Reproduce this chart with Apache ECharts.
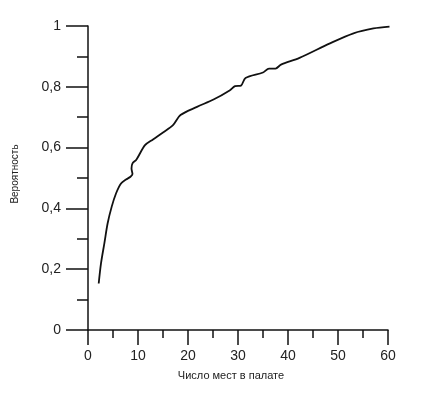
<!DOCTYPE html>
<html>
<head>
<meta charset="utf-8">
<script src="https://cdn.jsdelivr.net/npm/echarts@6/dist/echarts.min.js"></script>
<style>
html,body{margin:0;padding:0;background:#fff;}
#chart{width:428px;height:394px;}
</style>
</head>
<body>
<div id="chart"></div>
<script>
var xTitle = 'Число мест в палате';
var yTitle = 'Вероятность';
var xValues = [2.14, 2.6, 3.27, 3.93, 4.73, 5.6, 6.6, 7.6, 8.5, 8.9, 8.7, 8.9, 9.7, 11.4, 13.0, 15.0, 17.0, 18.5, 21.8, 25.1, 28.4, 29.4, 30.6, 31.5, 35.0, 36.2, 37.5, 38.6, 42.3, 48.4, 53.1, 57.1, 60.3];
var yValues = [0.153, 0.219, 0.285, 0.351, 0.405, 0.449, 0.482, 0.495, 0.504, 0.513, 0.531, 0.548, 0.561, 0.608, 0.627, 0.65, 0.674, 0.707, 0.734, 0.758, 0.789, 0.802, 0.804, 0.829, 0.847, 0.86, 0.86, 0.873, 0.895, 0.943, 0.976, 0.992, 0.998];

var pts = xValues.map(function (x, i) { return [x, yValues[i]]; });
var font = 'Liberation Sans, Arial, sans-serif';
var chart = echarts.init(document.getElementById('chart'));
chart.setOption({
  animation: false,
  backgroundColor: '#fff',
  grid: { left: 88, right: 40, top: 26, bottom: 64 },
  xAxis: {
    type: 'value', min: 0, max: 60, interval: 10,
    name: xTitle, nameLocation: 'middle', nameGap: 40,
    nameTextStyle: { fontFamily: font, fontSize: 11, color: '#222', padding: [0, 14, 0, 0] },
    axisLine: { show: true, lineStyle: { color: '#111', width: 1.5 } },
    axisTick: { show: true, inside: false, length: 15, lineStyle: { color: '#111', width: 1.5 } },
    minorTick: { show: true, splitNumber: 2, length: 8, lineStyle: { color: '#111', width: 1.5 } },
    axisLabel: { fontFamily: font, fontSize: 14, color: '#222', margin: 19 },
    splitLine: { show: false }
  },
  yAxis: {
    type: 'value', min: 0, max: 1, interval: 0.2,
    name: yTitle, nameLocation: 'middle', nameGap: 68, nameRotate: 90,
    nameTextStyle: { fontFamily: font, fontSize: 10, color: '#222', padding: [0, 0, 0, 8] },
    axisLine: { show: true, lineStyle: { color: '#111', width: 1.5 } },
    axisTick: { show: true, inside: false, length: 22, lineStyle: { color: '#111', width: 1.5 } },
    minorTick: { show: true, splitNumber: 2, length: 11, lineStyle: { color: '#111', width: 1.5 } },
    axisLabel: {
      fontFamily: font, fontSize: 14, color: '#222', margin: 27,
      formatter: function (v) { return String(Math.round(v * 10) / 10).replace('.', ','); }
    },
    splitLine: { show: false }
  },
  series: [{
    type: 'line', data: pts, smooth: 0.3, showSymbol: false,
    lineStyle: { color: '#111', width: 1.8 }
  }]
});
</script>
</body>
</html>
